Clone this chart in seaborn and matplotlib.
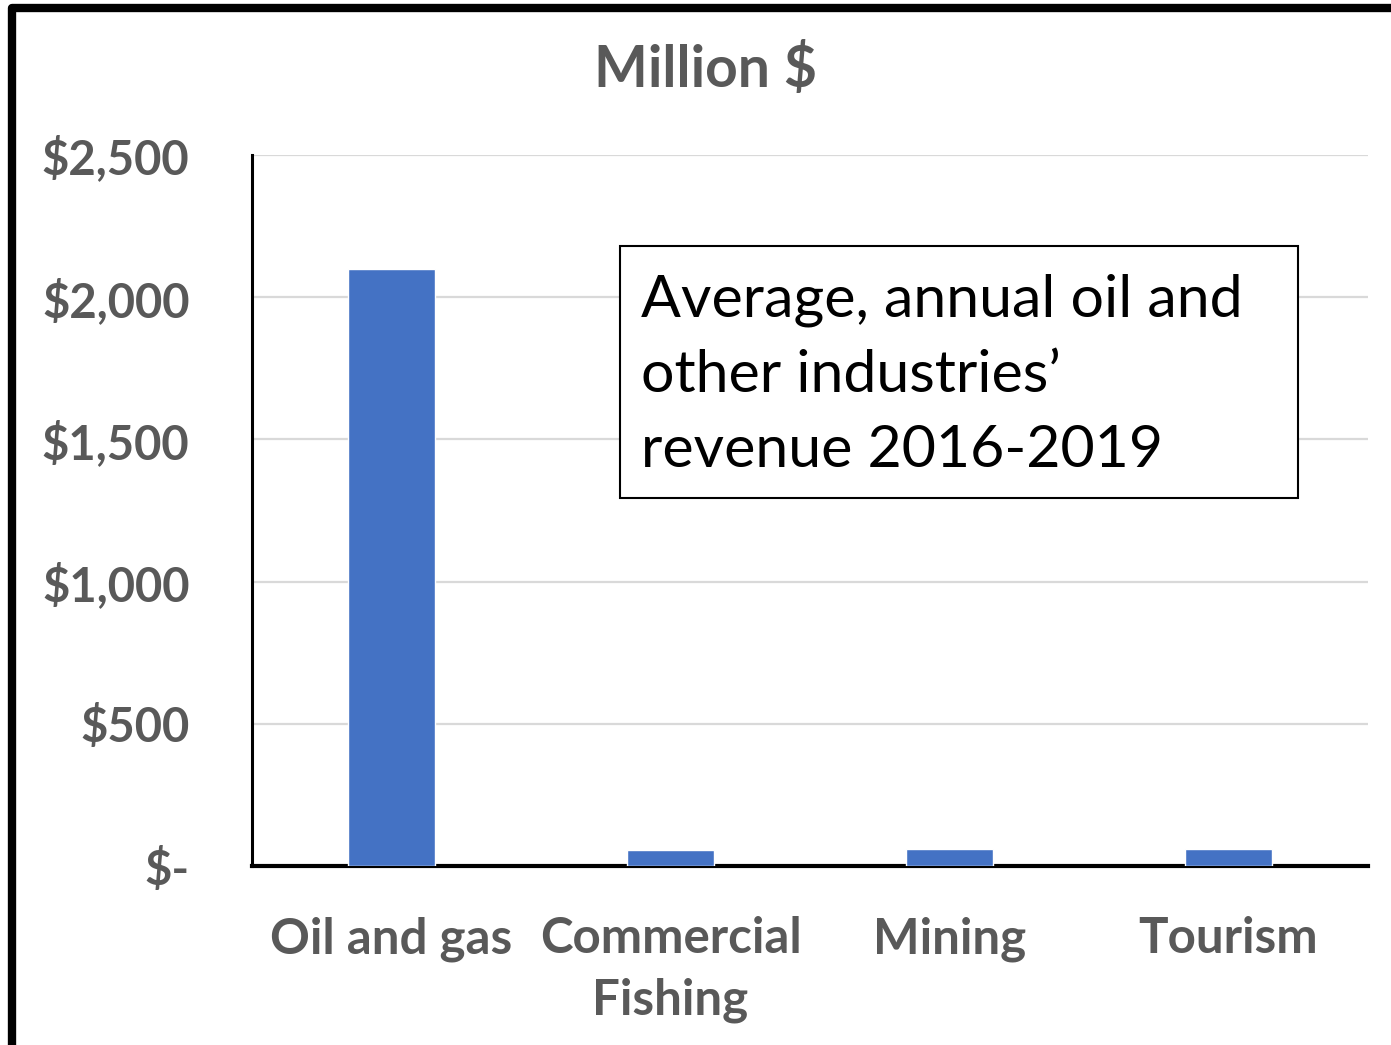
import matplotlib
matplotlib.use("Agg")
import matplotlib.pyplot as plt
from matplotlib.lines import Line2D
from matplotlib.patches import Rectangle
from matplotlib.ticker import FuncFormatter
import seaborn as sns
import pandas as pd

# Average annual revenue, million dollars
categories = ["Oil and gas", "Commercial\nFishing", "Mining", "Tourism"]
revenue = [2100, 58, 60, 60]
y_ticks = [0, 500, 1000, 1500, 2000, 2500]

title = "Million $"
note = "Average, annual oil and\nother industries\u2019\nrevenue 2016-2019"

sns.set_theme(style="white")
plt.rcParams["font.family"] = ["Lato", "DejaVu Sans"]

W, H = 1391, 1045
fig = plt.figure(figsize=(W / 100, H / 100), dpi=100)
ax = fig.add_axes([252 / W, 1 - 866 / H, (1368 - 252) / W, (866 - 155) / H])

df = pd.DataFrame({"industry": categories, "revenue": revenue})
sns.barplot(data=df, x="industry", y="revenue", color="#4472C4",
            saturation=1, width=0.31, ax=ax, zorder=3)

grey = "#595959"
ax.set_ylim(0, 2500)
ax.set_xlim(-0.5, len(categories) - 0.5)
ax.set_yticks(y_ticks)
ax.yaxis.set_major_formatter(FuncFormatter(lambda v, _: "$-" if v == 0 else f"${v:,.0f}"))
ax.grid(axis="y", color="#d9d9d9", linewidth=1.6, zorder=0)
ax.set_axisbelow(True)
ax.set_xlabel("")
ax.set_ylabel("")
ax.tick_params(axis="y", length=0, pad=45, labelsize=34, labelcolor=grey)
ax.tick_params(axis="x", length=0, pad=36, labelsize=35.5, labelcolor=grey)
for lab in ax.get_yticklabels() + ax.get_xticklabels():
    lab.set_fontweight("bold")
for lab in ax.get_xticklabels():
    lab.set_linespacing(1.45)

for side in ["top", "right"]:
    ax.spines[side].set_visible(False)
ax.spines["left"].set_color("black")
ax.spines["left"].set_linewidth(2.2)
ax.spines["bottom"].set_color("black")
ax.spines["bottom"].set_linewidth(3)

fig.text(705 / W, 1 - 70 / H, title, ha="center", va="center",
         fontsize=41, fontweight="bold", color=grey)

# Annotation box
ax.add_patch(Rectangle((0.3297, 0.5176), 0.6076, 0.3544, transform=ax.transAxes,
                       facecolor="white", edgecolor="black", linewidth=1.5, zorder=5))
ax.text(0.3486, 0.834, note, transform=ax.transAxes, ha="left", va="top",
        fontsize=42.5, color="black", linespacing=1.52, zorder=6)

# Outer frame
bx, by = 12 / W, 1 - 8 / H
fig.add_artist(Line2D([bx, bx, 1.0], [0.0, by, by], transform=fig.transFigure,
                      color="black", linewidth=6, solid_joinstyle="round"))

fig.savefig("out.png", dpi=100, facecolor="white")
